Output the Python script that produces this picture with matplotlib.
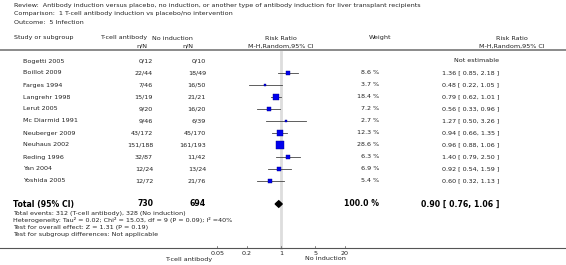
import numpy as np
import matplotlib
matplotlib.use("Agg")
import matplotlib.pyplot as plt
from matplotlib.transforms import blended_transform_factory

# dane z wykresu
studies = ['Bogetti 2005', 'Boillot 2009', 'Farges 1994', 'Langrehr 1998', 'Lerut 2005',
           'Mc Diarmid 1991', 'Neuberger 2009', 'Neuhaus 2002', 'Reding 1996', 'Yan 2004',
           'Yoshida 2005']
tcell = ['0/12', '22/44', '7/46', '15/19', '9/20', '9/46', '43/172', '151/188', '32/87',
         '12/24', '12/72']
noind = ['0/10', '18/49', '16/50', '21/21', '16/20', '6/39', '45/170', '161/193', '11/42',
         '13/24', '21/76']
weights = [None, 8.6, 3.7, 18.4, 7.2, 2.7, 12.3, 28.6, 6.3, 6.9, 5.4]
rr = [None, 1.36, 0.48, 0.79, 0.56, 1.27, 0.94, 0.96, 1.40, 0.92, 0.60]
lo = [None, 0.85, 0.22, 0.62, 0.33, 0.50, 0.66, 0.88, 0.79, 0.54, 0.32]
hi = [None, 2.18, 1.05, 1.01, 0.96, 3.26, 1.35, 1.06, 2.50, 1.59, 1.13]

total_n = ['730', '694']
total_rr, total_lo, total_hi = 0.90, 0.76, 1.06
total_weight = '100.0 %'

ticks = [0.05, 0.2, 1, 5, 20]
tick_labels = ['0.05', '0.2', '1', '5', '20']

W, H = 566, 265
fig = plt.figure(figsize=(W / 100, H / 100), dpi=100)
ax = fig.add_axes([0, 0, 1, 1])
ax.set_xscale('log')
# 1 dekada = 49 px, RR=1 na x=281 px
ax.set_xlim(10 ** (-281 / 49), 10 ** ((W - 281) / 49))
# wiersz i -> y = 61 + 12*i px
ax.set_ylim((H - 61) / 12, -61 / 12)
ax.axis('off')

tr = blended_transform_factory(fig.transFigure, ax.transData)


def px(x):
    return x / W


def py(y):
    return 1 - y / H


fs = 4.6
col = '#222222'

# naglowek
fig.text(px(14), py(6), 'Review:  Antibody induction versus placebo, no induction, or another type of antibody induction for liver transplant recipients',
         fontsize=fs, color=col, va='center')
fig.text(px(14), py(14), 'Comparison:  1 T-cell antibody induction vs placebo/no intervention',
         fontsize=fs, color=col, va='center')
fig.text(px(14), py(22), 'Outcome:  5 Infection', fontsize=fs, color=col, va='center')

fig.text(px(14), py(38), 'Study or subgroup', fontsize=fs, color=col, va='center')
fig.text(px(124), py(38), 'T-cell antibody', fontsize=fs, color=col, va='center', ha='center')
fig.text(px(147), py(46), 'n/N', fontsize=fs, color=col, va='center', ha='right')
fig.text(px(172), py(38), 'No induction', fontsize=fs, color=col, va='center', ha='center')
fig.text(px(193), py(46), 'n/N', fontsize=fs, color=col, va='center', ha='right')
fig.text(px(281), py(38), 'Risk Ratio', fontsize=fs, color=col, va='center', ha='center')
fig.text(px(281), py(46), 'M-H,Random,95% CI', fontsize=fs, color=col, va='center', ha='center')
fig.text(px(380), py(38), 'Weight', fontsize=fs, color=col, va='center', ha='center')
fig.text(px(512), py(38), 'Risk Ratio', fontsize=fs, color=col, va='center', ha='center')
fig.text(px(512), py(46), 'M-H,Random,95% CI', fontsize=fs, color=col, va='center', ha='center')

ax.plot([0, 1], [py(50), py(50)], transform=fig.transFigure, color='#777777', lw=1.2)

# pionowa linia RR=1
axis_y = (248 - 61) / 12
ax.plot([1, 1], [-0.75, axis_y], color='#dddddd', lw=2, zorder=0)

for i, name in enumerate(studies):
    ax.text(px(23), i, name, transform=tr, fontsize=fs, color=col, va='center')
    ax.text(px(153), i, tcell[i], transform=tr, fontsize=fs, color=col, va='center', ha='right')
    ax.text(px(206), i, noind[i], transform=tr, fontsize=fs, color=col, va='center', ha='right')
    if rr[i] is None:
        ax.text(px(499), i, 'Not estimable', transform=tr, fontsize=fs, color=col,
                va='center', ha='right')
        continue
    ax.plot([lo[i], hi[i]], [i, i], color='#444444', lw=0.6, zorder=2)
    side = 1.05 * np.sqrt(weights[i])
    ax.plot(rr[i], i, marker='s', ms=side, color='#0000ee', mec='#000088', mew=0.3, zorder=3)
    ax.text(px(379), i, f'{weights[i]:.1f} %', transform=tr, fontsize=fs, color=col,
            va='center', ha='right')
    ax.text(px(499), i, f'{rr[i]:.2f} [ {lo[i]:.2f}, {hi[i]:.2f} ]', transform=tr,
            fontsize=fs, color=col, va='center', ha='right')

# suma
ty = (204 - 61) / 12
fb = 5.6
ax.text(px(13), ty, 'Total (95% CI)', transform=tr, fontsize=fb, weight='bold', color='black', va='center')
ax.text(px(153), ty, total_n[0], transform=tr, fontsize=fb, weight='bold', color='black', va='center', ha='right')
ax.text(px(206), ty, total_n[1], transform=tr, fontsize=fb, weight='bold', color='black', va='center', ha='right')
ax.text(px(379), ty, total_weight, transform=tr, fontsize=fb, weight='bold', color='black', va='center', ha='right')
ax.text(px(499), ty, f'{total_rr:.2f} [ {total_lo:.2f}, {total_hi:.2f} ]', transform=tr,
        fontsize=fb, weight='bold', color='black', va='center', ha='right')
ax.fill([total_lo, total_rr, total_hi, total_rr], [ty, ty - 0.27, ty, ty + 0.27],
        color='black', zorder=3)

notes = ['Total events: 312 (T-cell antibody), 328 (No induction)',
         'Heterogeneity: Tau\u00b2 = 0.02; Chi\u00b2 = 15.03, df = 9 (P = 0.09); I\u00b2 =40%',
         'Test for overall effect: Z = 1.31 (P = 0.19)',
         'Test for subgroup differences: Not applicable']
for k, t in enumerate(notes):
    fig.text(px(13), py(213 + 7.2 * k), t, fontsize=fs, color=col, va='center')

# os x
ax.plot([0, 1], [py(248), py(248)], transform=fig.transFigure, color='#555555', lw=0.8)
for t, lab in zip(ticks, tick_labels):
    ax.plot([t, t], [axis_y, axis_y - 0.15], color='#555555', lw=0.5)
    ax.text(t, axis_y + 0.45, lab, fontsize=fs, color=col, ha='center', va='center')
fig.text(px(189), py(259), 'T-cell antibody', fontsize=fs, color=col, ha='center', va='center')
fig.text(px(325), py(259), 'No induction', fontsize=fs, color=col, ha='center', va='center')

fig.savefig('out.png', dpi=100)
